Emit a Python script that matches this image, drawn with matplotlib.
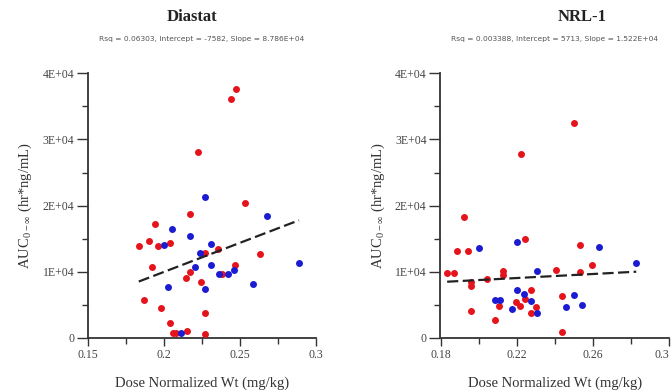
import numpy as np
import matplotlib
matplotlib.use("Agg")
import matplotlib.pyplot as plt
from matplotlib.ticker import MultipleLocator, FixedLocator

# Diastat data (dose normalized wt, AUC)
DIA_RED_X = [0.1834, 0.190, 0.1939, 0.1959, 0.1924, 0.1871, 0.1979, 0.2038, 0.2038,
             0.2060, 0.2082, 0.2150, 0.2174, 0.2225, 0.2148, 0.2174, 0.2245, 0.2273,
             0.2273, 0.2273, 0.2352, 0.2379, 0.2469, 0.2438, 0.2471, 0.2530, 0.2631]
DIA_RED_Y = [13900, 14600, 17300, 13900, 10800, 5700, 4600, 14400, 2200,
             750, 750, 1000, 18800, 28100, 9100, 9900, 8500, 3800,
             550, 12900, 13400, 9600, 11000, 36100, 37700, 20400, 12700]
DIA_BLUE_X = [0.1999, 0.2053, 0.2027, 0.2111, 0.2174, 0.2207, 0.2238, 0.2273, 0.2273,
              0.2306, 0.2306, 0.2359, 0.2418, 0.2460, 0.2587, 0.2677, 0.2888]
DIA_BLUE_Y = [14000, 16400, 7700, 750, 15400, 10700, 12900, 21300, 7400,
              14200, 11000, 9700, 9700, 10300, 8100, 18400, 11400]
DIA_FIT = (0.06303, -7582, 8.786e4)   # Rsq, intercept, slope

# NRL-1 data
NRL_RED_X = [0.1835, 0.1870, 0.1888, 0.1923, 0.1942, 0.1961, 0.1961, 0.1961, 0.2042,
             0.2084, 0.2105, 0.2126, 0.2126, 0.2197, 0.2220, 0.2224, 0.2246, 0.2246,
             0.2273, 0.2273, 0.2299, 0.2408, 0.2437, 0.2437, 0.2499, 0.2532, 0.2532,
             0.2597]
NRL_RED_Y = [9800, 9800, 13200, 18300, 13100, 8400, 7800, 4100, 8900,
             2700, 4900, 10100, 9500, 5500, 4800, 27800, 15000, 5900,
             7300, 3800, 4700, 10300, 6400, 900, 32500, 14000, 9900,
             11000]
NRL_BLUE_X = [0.2001, 0.2084, 0.2112, 0.2173, 0.2204, 0.2204, 0.2238, 0.2273, 0.2308,
              0.2308, 0.2457, 0.2499, 0.2542, 0.2630, 0.2828]
NRL_BLUE_Y = [13600, 5700, 5700, 4400, 14500, 7300, 6700, 5600, 10100,
              3800, 4700, 6500, 5000, 13800, 11300]
NRL_FIT = (0.003388, 5713, 1.522e4)

Y_TICKS = [0, 10000, 20000, 30000, 40000]
Y_LABELS = ["0", "1E+04", "2E+04", "3E+04", "4E+04"]

RED = "#e5131b"
BLUE = "#1b1bd2"
SERIF = "Liberation Serif"

fig = plt.figure(figsize=(6.72, 3.90), dpi=100)


def panel(rect, title, title_x, fit, rx, ry, bx, by, xlim, xmajor, xlabels, xminor):
    ax = fig.add_axes(rect)
    ax.scatter(rx, ry, s=25, color=RED, zorder=3, clip_on=False, linewidths=0)
    ax.scatter(bx, by, s=25, color=BLUE, zorder=3, clip_on=False, linewidths=0)

    # regression line from the reported intercept / slope
    allx = np.array(rx + bx)
    xs = np.array([allx.min(), allx.max()])
    ax.plot(xs, fit[1] + fit[2] * xs, color="#222222", lw=1.6,
            ls=(0, (5, 2)), zorder=4)

    ax.set_xlim(*xlim)
    ax.set_ylim(0, 40000)
    ax.xaxis.set_major_locator(FixedLocator(xmajor))
    ax.set_xticklabels(xlabels)
    ax.xaxis.set_minor_locator(FixedLocator(xminor))
    ax.yaxis.set_major_locator(FixedLocator(Y_TICKS))
    ax.set_yticklabels(Y_LABELS)
    ax.yaxis.set_minor_locator(MultipleLocator(5000))

    for s in ["top", "right"]:
        ax.spines[s].set_visible(False)
    for s in ["left", "bottom"]:
        ax.spines[s].set_color("#333333")
        ax.spines[s].set_linewidth(1.3)
    ax.tick_params(which="major", axis="y", length=8, width=1.0, color="#333333")
    ax.tick_params(which="major", axis="x", length=6, width=1.0, color="#333333")
    ax.tick_params(which="minor", length=4, width=1.0, color="#333333")
    ax.tick_params(labelsize=8.5, labelcolor="#444444", pad=2)
    for lab in ax.get_xticklabels() + ax.get_yticklabels():
        lab.set_family(SERIF)

    ax.set_xlabel("Dose Normalized Wt (mg/kg)", family=SERIF, fontsize=10.5,
                  color="#333333", labelpad=11)
    ax.set_ylabel(r"AUC$_{\mathregular{0-\infty}}$ (hr*ng/mL)", family=SERIF,
                  fontsize=10.5, color="#333333", labelpad=6)

    # title and fit statistics
    fig.text(title_x, 1 - 17 / 390, title, family=SERIF, fontweight="bold",
             fontsize=12, ha="center", va="center", color="#222222")
    cx = rect[0] + rect[2] / 2
    sub = "Rsq = %s, Intercept = %s, Slope = %s" % (
        ("%.4g" % fit[0]), ("%d" % fit[1]), ("%.3E" % fit[2]))
    fig.text(cx, 1 - 39 / 390, sub, family="DejaVu Sans", fontsize=5.4,
             ha="center", va="center", color="#555555")
    return ax


bottom = 1 - 338 / 390
height = (338 - 73.3) / 390

panel([88 / 672, bottom, 228 / 672, height], "Diastat", 191.5 / 672, DIA_FIT,
      DIA_RED_X, DIA_RED_Y, DIA_BLUE_X, DIA_BLUE_Y,
      (0.15, 0.3), [0.15, 0.2, 0.25, 0.3], ["0.15", "0.2", "0.25", "0.3"],
      [0.175, 0.225, 0.275])

ax2 = panel([440.5 / 672, bottom, 228.5 / 672, height], "NRL-1", 582 / 672, NRL_FIT,
            NRL_RED_X, NRL_RED_Y, NRL_BLUE_X, NRL_BLUE_Y,
            (0.18, 0.3), [0.18, 0.22, 0.26, 0.3], ["0.18", "0.22", "0.26", "0.3"],
            [0.20, 0.24, 0.28])
# last tick label sits at the figure edge; keep it inside
ax2.get_xticklabels()[-1].set_horizontalalignment("right")

fig.savefig("out.png", dpi=100)
